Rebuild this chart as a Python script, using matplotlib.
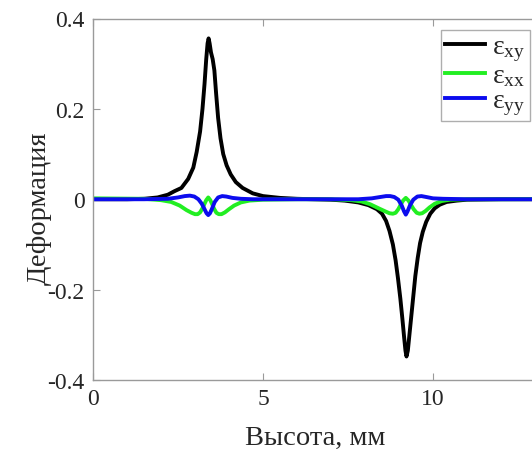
import matplotlib
matplotlib.use("Agg")
import matplotlib.pyplot as plt

# ---- data ----
x_xy = [0, 1.0, 1.5, 1.9, 2.2, 2.4, 2.6, 2.8, 2.95, 3.05, 3.15, 3.22, 3.28, 3.33, 3.37,
        3.40, 3.43, 3.47, 3.52, 3.57, 3.62, 3.68, 3.75, 3.83, 3.93, 4.05, 4.2, 4.4, 4.7,
        5.0, 5.5, 6.0, 6.5, 7.0, 7.4, 7.8, 8.1, 8.35, 8.5, 8.62, 8.72, 8.82, 8.9, 8.97,
        9.04, 9.1, 9.15, 9.19, 9.22, 9.26, 9.3, 9.36, 9.42, 9.48, 9.55, 9.62, 9.7, 9.8,
        9.92, 10.05, 10.2, 10.4, 10.7, 11.0, 12.0, 13.0, 15.0]
eps_xy = [0, 0.0, 0.001, 0.004, 0.01, 0.018, 0.025, 0.045, 0.07, 0.105, 0.15, 0.2, 0.255,
          0.31, 0.345, 0.356, 0.345, 0.325, 0.31, 0.285, 0.235, 0.18, 0.135, 0.1, 0.075,
          0.055, 0.038, 0.025, 0.013, 0.007, 0.003, 0.001, 0.0, -0.001, -0.003, -0.007,
          -0.013, -0.022, -0.032, -0.048, -0.07, -0.1, -0.135, -0.175, -0.22, -0.265,
          -0.305, -0.335, -0.348, -0.335, -0.305, -0.26, -0.215, -0.17, -0.13, -0.097,
          -0.072, -0.05, -0.032, -0.02, -0.012, -0.006, -0.003, -0.001, 0, 0, 0]

x_xx = [0, 1.5, 2.0, 2.3, 2.55, 2.75, 2.9, 3.0, 3.08, 3.15, 3.22, 3.28, 3.33, 3.39, 3.45,
        3.5, 3.56, 3.63, 3.7, 3.78, 3.88, 4.0, 4.15, 4.35, 4.6, 5.0, 6.0, 7.0, 7.6, 7.9,
        8.15, 8.4, 8.6, 8.72, 8.82, 8.9, 8.98, 9.05, 9.12, 9.2, 9.28, 9.35, 9.43, 9.52,
        9.6, 9.68, 9.78, 9.9, 10.05, 10.25, 10.5, 11, 12, 15]
eps_xx = [0.002, 0.001, -0.002, -0.006, -0.014, -0.024, -0.03, -0.033, -0.033, -0.029,
          -0.02, -0.01, -0.002, 0.004, -0.002, -0.01, -0.021, -0.03, -0.033, -0.033,
          -0.029, -0.022, -0.014, -0.007, -0.003, -0.001, 0, 0, -0.002, -0.005,
          -0.011, -0.02, -0.027, -0.031, -0.032, -0.03, -0.022, -0.012, -0.003, 0.003,
          -0.003, -0.012, -0.022, -0.03, -0.032, -0.031, -0.026, -0.018, -0.01, -0.004,
          -0.001, 0, 0, 0.001]

x_yy = [0, 1.5, 2.2, 2.5, 2.7, 2.85, 2.98, 3.1, 3.2, 3.28, 3.34, 3.39, 3.44, 3.5, 3.58,
        3.68, 3.8, 3.92, 4.1, 4.35, 4.7, 5.5, 7.0, 7.8, 8.2, 8.45, 8.62, 8.74, 8.86, 8.98,
        9.08, 9.15, 9.2, 9.25, 9.32, 9.42, 9.54, 9.66, 9.8, 10.0, 10.3, 11, 15]
eps_yy = [0, 0, 0.001, 0.004, 0.007, 0.008, 0.006, 0.0, -0.01, -0.022, -0.031, -0.035,
          -0.031, -0.021, -0.006, 0.004, 0.007, 0.006, 0.003, 0.001, 0, 0, 0, 0, 0.002,
          0.005, 0.007, 0.007, 0.005, -0.001, -0.014, -0.027, -0.034, -0.027, -0.014,
          -0.001, 0.006, 0.007, 0.005, 0.002, 0.001, 0, 0]

x_ticks = [0, 5, 10]
x_ticklabels = ["0", "5", "10"]
y_ticks = [-0.4, -0.2, 0, 0.2, 0.4]
y_ticklabels = ["-0.4", "-0.2", "0", "0.2", "0.4"]
series_labels = [r"$\mathregular{ε_{xy}}$", r"$\mathregular{ε_{xx}}$", r"$\mathregular{ε_{yy}}$"]
x_label = "Высота, мм"
y_label = "Деформация"

# ---- style ----
plt.rcParams['font.family'] = ['Liberation Serif', 'DejaVu Serif']
plt.rcParams['mathtext.fontset'] = 'custom'
plt.rcParams['mathtext.rm'] = 'Liberation Serif'

W, H = 532, 452
fig = plt.figure(figsize=(W / 100, H / 100), dpi=100)
left_px, top_px, bottom_px = 93, 19.5, 381
px_per_unit = 34.0
xmax = 15
ax = fig.add_axes([left_px / W, 1 - bottom_px / H, xmax * px_per_unit / W,
                   (bottom_px - top_px) / H])

lw = 2.8
ax.plot(x_xy, eps_xy, color='black', lw=lw, label=series_labels[0])
ax.plot(x_xx, eps_xx, color='#22ee22', lw=lw, label=series_labels[1])
ax.plot(x_yy, eps_yy, color='#0c0cee', lw=lw, label=series_labels[2])

ax.set_xlim(0, xmax)
ax.set_ylim(-0.4, 0.4)
ax.set_xticks(x_ticks)
ax.set_xticklabels(x_ticklabels)
ax.set_yticks(y_ticks)
ax.set_yticklabels(y_ticklabels)
ax.tick_params(direction='in', length=5, width=0.8, color='#9a9a9a',
               labelsize=17, labelcolor='#262626', top=True, right=True, pad=6)
for s in ax.spines.values():
    s.set_color('#9a9a9a')
    s.set_linewidth(1.0)

fig.text(245 / W, 1 - 445 / H, x_label, ha='left', va='baseline', fontsize=20.5,
         color='#262626')
fig.text(39 / W, 1 - 208 / H, y_label, ha='center', va='center', rotation=90,
         fontsize=20.5, color='#262626')

leg = ax.legend(loc='upper left', bbox_to_anchor=(441 / W, 1 - 31 / H),
                bbox_transform=fig.transFigure, fontsize=20, frameon=True,
                fancybox=False, edgecolor='#9a9a9a', handlelength=1.45,
                handleheight=0.5, handletextpad=0.25, labelspacing=0.0,
                borderpad=0.15, borderaxespad=0)
leg.get_frame().set_linewidth(1.0)
for t in leg.get_texts():
    t.set_color('#262626')

fig.savefig('out.png', dpi=100, facecolor='white')
